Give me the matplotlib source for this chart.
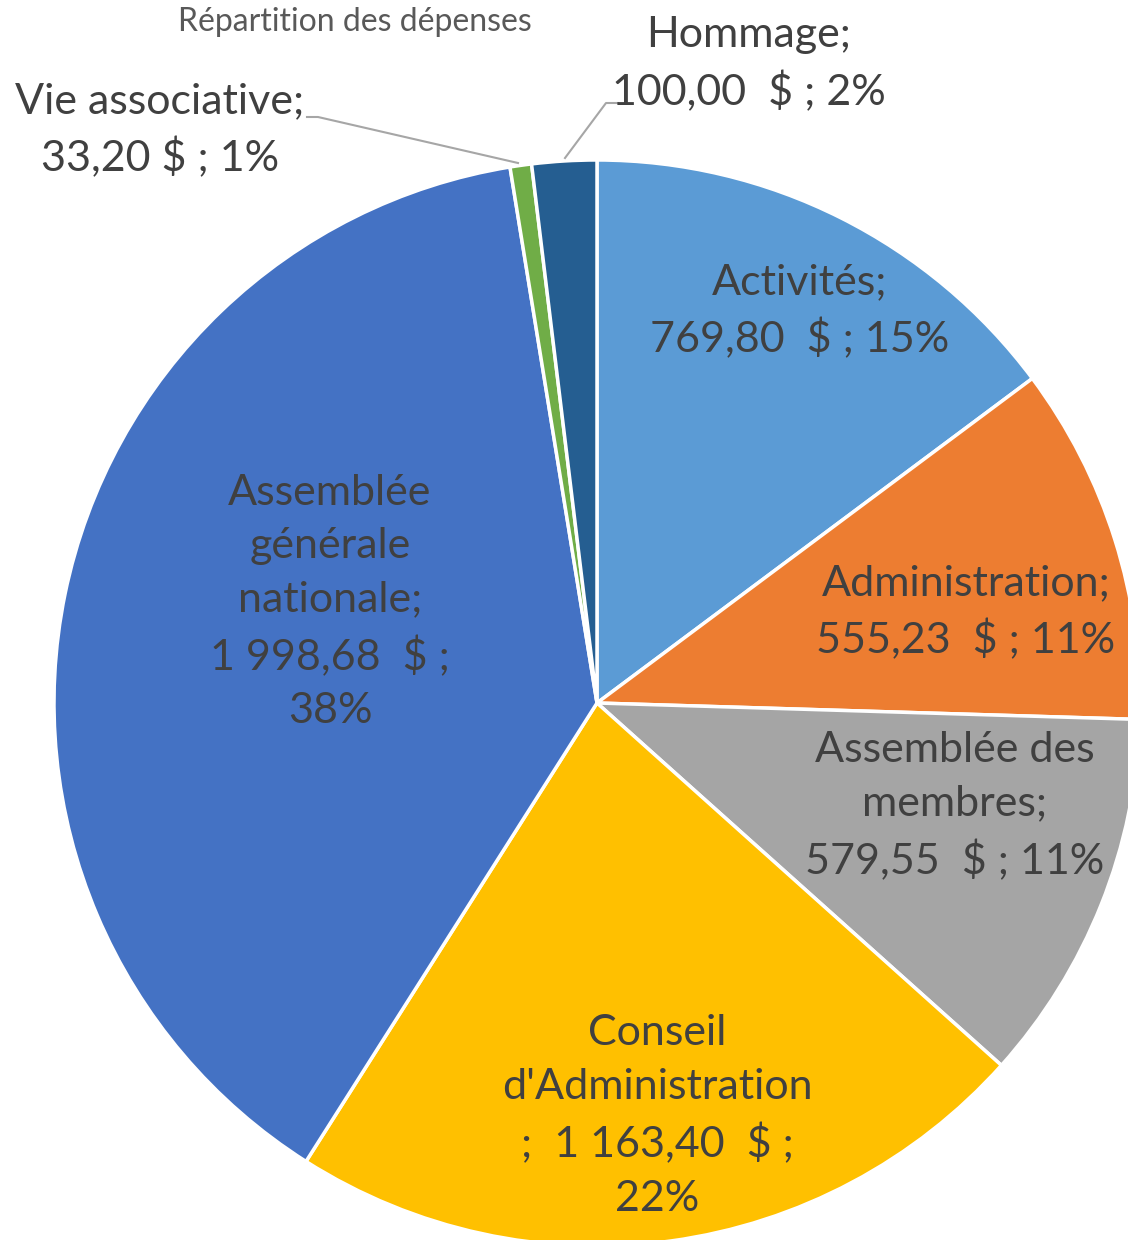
import numpy as np
import matplotlib.pyplot as plt

plt.rcParams['font.family'] = ['Lato', 'DejaVu Sans']

# data
categories = ['Activités', 'Administration', 'Assemblée des membres',
              "Conseil d'Administration", 'Assemblée générale nationale',
              'Vie associative', 'Hommage']
amounts = [769.80, 555.23, 579.55, 1163.40, 1998.68, 33.20, 100.00]
amount_txt = ['769,80  $', '555,23  $', '579,55  $', '1 163,40  $',
              '1 998,68  $', '33,20 $', '100,00  $']
colors = ['#5B9BD5', '#ED7D31', '#A5A5A5', '#FFC000', '#4472C4',
          '#70AD47', '#255E91']

total = sum(amounts)
pcts = [round(100 * a / total) for a in amounts]

label_txt = [
    'Activités;\n{} ; {}%',
    'Administration;\n{} ; {}%',
    'Assemblée des\nmembres;\n{} ; {}%',
    "Conseil\nd'Administration\n;  {} ;\n{}%",
    'Assemblée\ngénérale\nnationale;\n{} ;\n{}%',
    'Vie associative;\n{} ; {}%',
    'Hommage;\n{} ; {}%',
]

W, H = 1128, 1240
fig = plt.figure(figsize=(W / 100, H / 100), dpi=100)
ax = fig.add_axes([0, 0, 1, 1])

cx, cy, R = 597, H - 703, 543
wedges, _ = ax.pie(amounts, colors=colors, startangle=90, counterclock=False,
                   center=(cx, cy), radius=R, frame=True,
                   wedgeprops=dict(edgecolor='white', linewidth=2.5))
ax.set_xlim(0, W)
ax.set_ylim(0, H)
ax.set_aspect('equal')
ax.axis('off')

# label positions (pixel coords, from top)
lab_pos = [(800, 311), (966, 612), (955, 806), (657, 1116), (330, 602),
           (160, 130), (749, 64)]
tc = '#404040'
for i in range(len(amounts)):
    s = label_txt[i].format(amount_txt[i], pcts[i])
    x, y = lab_pos[i]
    ax.text(x, H - y, s, ha='center', va='center', fontsize=31,
            color=tc, linespacing=1.5)

# leader lines
ax.plot([307, 318, 518], [H - 117, H - 117, H - 163], color='#A6A6A6', lw=1.5)
ax.plot([618, 606, 565], [H - 103, H - 103, H - 158], color='#A6A6A6', lw=1.5)

ax.text(355, H - 22, 'Répartition des dépenses', ha='center', va='center',
        fontsize=23, color='#595959')

fig.savefig('out.png', dpi=100)
